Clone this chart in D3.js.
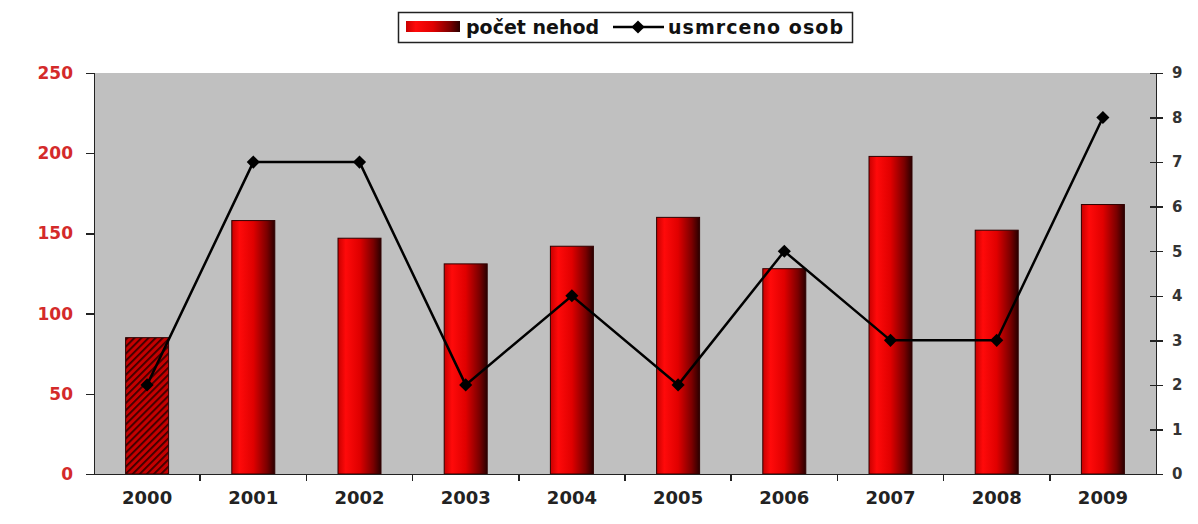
<!DOCTYPE html>
<meta charset="utf-8">
<style>
    body { margin: 0; background: #fff; }
    .axis text { font-family: "DejaVu Sans", sans-serif; font-weight: bold; }
    .axis path, .axis line { stroke: #222; stroke-width: 1.5px; shape-rendering: crispEdges; }
    .legend text { font: bold 19px "DejaVu Sans", sans-serif; fill: #111; }
</style>
<body>
<svg width="1198" height="524"></svg>
<script src="https://d3js.org/d3.v7.min.js"></script>
<script>
    var years = ["2000", "2001", "2002", "2003", "2004", "2005", "2006", "2007", "2008", "2009"];
    var accidents = [85, 158, 147, 131, 142, 160, 128, 198, 152, 168];
    var deaths = [2, 7, 7, 2, 4, 2, 5, 3, 3, 8];
    var leftTicks = [0, 50, 100, 150, 200, 250];
    var rightTicks = [0, 1, 2, 3, 4, 5, 6, 7, 8, 9];

    var svg = d3.select("svg"),
        margin = {top: 73, right: 42, bottom: 50, left: 94},
        width = +svg.attr("width") - margin.left - margin.right,
        height = +svg.attr("height") - margin.top - margin.bottom;

    var defs = svg.append("defs");
    var grad = defs.append("linearGradient").attr("id", "barGrad")
        .attr("x1", "0%").attr("x2", "100%").attr("y1", "0%").attr("y2", "0%");
    grad.append("stop").attr("offset", "0%").attr("stop-color", "#c80000");
    grad.append("stop").attr("offset", "18%").attr("stop-color", "#ff0a0a");
    grad.append("stop").attr("offset", "50%").attr("stop-color", "#e00000");
    grad.append("stop").attr("offset", "82%").attr("stop-color", "#7a0000");
    grad.append("stop").attr("offset", "100%").attr("stop-color", "#2a0000");

    var hatch = defs.append("pattern").attr("id", "hatch")
        .attr("patternUnits", "userSpaceOnUse").attr("width", 5).attr("height", 5)
        .attr("patternTransform", "rotate(-45)");
    hatch.append("rect").attr("width", 5).attr("height", 5).attr("fill", "#c40000");
    hatch.append("rect").attr("width", 5).attr("height", 1.8).attr("fill", "#3a0000");

    var g = svg.append("g")
        .attr("transform", "translate(" + margin.left + "," + margin.top + ")");

    var xb = d3.scaleBand().domain(years).range([0, width]);
    var yl = d3.scaleLinear().domain([0, 250]).range([height, 0]);
    var yr = d3.scaleLinear().domain([0, 9]).range([height, 0]);

    g.append("rect").attr("width", width).attr("height", height).attr("fill", "#c0c0c0");

    g.selectAll(".bar")
        .data(accidents)
        .enter().append("rect")
        .attr("class", "bar")
        .attr("x", function(d, i) { return xb(years[i]) + xb.bandwidth() / 2 - 21.5; })
        .attr("width", 43)
        .attr("y", function(d) { return yl(d); })
        .attr("height", function(d) { return height - yl(d); })
        .attr("fill", function(d, i) { return i === 0 ? "url(#hatch)" : "url(#barGrad)"; })
        .attr("stroke", "#300000")
        .attr("stroke-width", 1);

    // x axis
    var xAxis = g.append("g")
        .attr("class", "axis axis--x")
        .attr("transform", "translate(0," + height + ")")
        .call(d3.axisBottom(xb).tickSize(0).tickPadding(17));
    xAxis.selectAll("text").style("font-size", "18px").attr("fill", "#222");
    xAxis.selectAll(".sep")
        .data(years.slice(1))
        .enter().append("line")
        .attr("class", "sep")
        .attr("x1", function(d) { return xb(d); })
        .attr("x2", function(d) { return xb(d); })
        .attr("y1", 0).attr("y2", 7);

    // left axis
    var leftAxis = g.append("g")
        .attr("class", "axis axis--y")
        .call(d3.axisLeft(yl).tickValues(leftTicks).tickSizeOuter(0).tickSize(8).tickPadding(13));
    leftAxis.selectAll("text").style("font-size", "17px").attr("fill", "#d42a2a");

    // right axis
    var rightAxis = g.append("g")
        .attr("class", "axis axis--y2")
        .attr("transform", "translate(" + width + ",0)")
        .call(d3.axisRight(yr).tickValues(rightTicks).tickSizeOuter(0).tickSize(7).tickPadding(9));
    rightAxis.selectAll(".tick line").attr("x1", -6);
    rightAxis.selectAll("text").style("font-size", "15px").attr("fill", "#333");

    // deaths line
    var line = d3.line()
        .x(function(d, i) { return xb(years[i]) + xb.bandwidth() / 2; })
        .y(function(d) { return yr(d); });

    g.append("path")
        .datum(deaths)
        .attr("fill", "none")
        .attr("stroke", "#000")
        .attr("stroke-width", 2.5)
        .attr("d", line);

    var diamond = d3.symbol().type(d3.symbolDiamond2).size(110);
    g.selectAll(".pt")
        .data(deaths)
        .enter().append("path")
        .attr("class", "pt")
        .attr("transform", function(d, i) {
            return "translate(" + (xb(years[i]) + xb.bandwidth() / 2) + "," + yr(d) + ")";
        })
        .attr("d", diamond)
        .attr("fill", "#000");

    // legend
    var legend = svg.append("g").attr("class", "legend");
    legend.append("rect")
        .attr("x", 398.5).attr("y", 12.5).attr("width", 454).attr("height", 30)
        .attr("fill", "#fff").attr("stroke", "#222").attr("stroke-width", 1.5);
    legend.append("rect")
        .attr("x", 406).attr("y", 21).attr("width", 54).attr("height", 11)
        .attr("fill", "url(#barGrad)");
    legend.append("text").attr("x", 466).attr("y", 34).text("počet nehod");
    legend.append("line")
        .attr("x1", 613).attr("x2", 664).attr("y1", 27).attr("y2", 27)
        .attr("stroke", "#000").attr("stroke-width", 2.5);
    legend.append("path")
        .attr("transform", "translate(638,27)")
        .attr("d", diamond)
        .attr("fill", "#000");
    legend.append("text").attr("x", 668).attr("y", 34).attr("textLength", 175).text("usmrceno osob");
</script>
</body>
